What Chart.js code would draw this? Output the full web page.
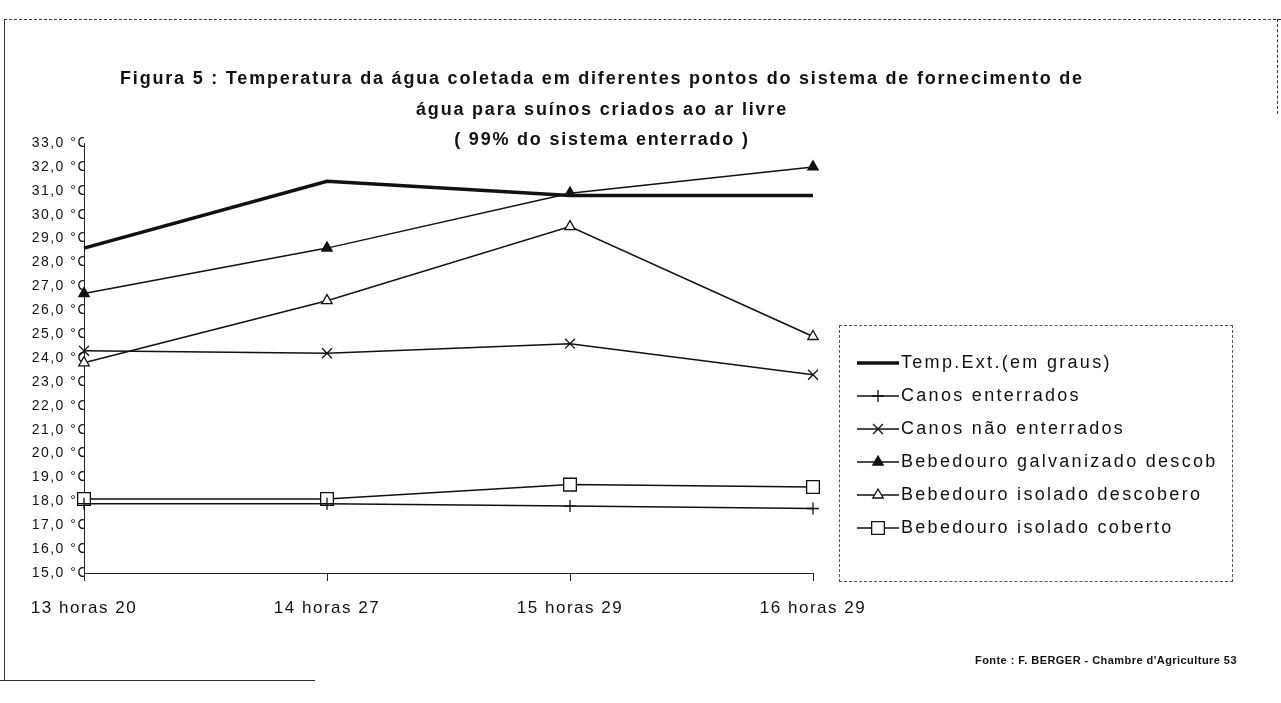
<!DOCTYPE html>
<html lang="pt">
<head>
<meta charset="utf-8">
<title>Figura 5</title>
<script src="https://cdn.jsdelivr.net/npm/chart.js@4/dist/chart.umd.min.js"></script>
<style>
  body { margin: 0; background: #fff; font-family: "Liberation Sans", Arial, sans-serif; color: #111; }
  #page { position: relative; width: 1281px; height: 703px; overflow: hidden; }
  #chart { position: absolute; left: 0; top: 0; }
  #title { position: absolute; left: 0; width: 1204px; top: 63px; text-align: center; font-weight: bold; font-size: 18px; letter-spacing: 1.8px; line-height: 30.5px; }
  #legend { position: absolute; left: 839px; top: 325px; width: 394px; height: 257px; border: 1px dashed #555; box-sizing: border-box; padding-top: 20px; }
  .row { height: 33px; display: flex; align-items: center; }
  .row canvas { margin-left: 17px; margin-right: 2px; }
  .row span { font-size: 18px; letter-spacing: 2.3px; }
  #source { position: absolute; left: 975px; top: 654px; font-size: 11px; font-weight: bold; letter-spacing: 0.45px; }
  .frame { position: absolute; background: #333; }
</style>
</head>
<body>
<div id="page">
  <canvas id="chart" width="1281" height="703"></canvas>
  <div id="title">Figura 5 : Temperatura da água coletada em diferentes pontos do sistema de fornecimento de<br>água para suínos criados ao ar livre<br>( 99% do sistema enterrado )</div>
  <div id="legend"></div>
  <div id="source">Fonte : F. BERGER - Chambre d'Agriculture 53</div>
  <div class="frame" style="left:4px; top:19px; width:1px; height:662px;"></div>
  <div class="frame" style="left:4px; top:19px; width:1277px; height:0; background:none; border-top:1px dashed #333;"></div>
  <div class="frame" style="left:0; top:680px; width:315px; height:1px;"></div>
  <div class="frame" style="left:1277px; top:19px; width:0; height:95px; background:none; border-left:1px dashed #333;"></div>
</div>
<script>
// Dados
const timeLabels = ['13 horas 20', '14 horas 27', '15 horas 29', '16 horas 29'];
const tempExt = [28.6, 31.4, 30.8, 30.8];
const canosEnterrados = [17.9, 17.9, 17.8, 17.7];
const canosNaoEnterrados = [24.3, 24.2, 24.6, 23.3];
const bebGalvanizado = [26.7, 28.6, 30.9, 32.0];
const bebIsoladoDescoberto = [23.8, 26.4, 29.5, 24.9];
const bebIsoladoCoberto = [18.1, 18.1, 18.7, 18.6];
const seriesNames = [
  'Temp.Ext.(em graus)',
  'Canos enterrados',
  'Canos não enterrados',
  'Bebedouro galvanizado descob',
  'Bebedouro isolado descobero',
  'Bebedouro isolado coberto'
];
const yTickLabels = [
  '15,0 °C', '16,0 °C', '17,0 °C', '18,0 °C', '19,0 °C', '20,0 °C', '21,0 °C',
  '22,0 °C', '23,0 °C', '24,0 °C', '25,0 °C', '26,0 °C', '27,0 °C', '28,0 °C',
  '29,0 °C', '30,0 °C', '31,0 °C', '32,0 °C', '33,0 °C'
];

const FONT = '"Liberation Sans", Arial, sans-serif';
const INK = '#111';

function makeDataset(label, data, style) {
  return Object.assign({
    label: label,
    data: data,
    borderColor: INK,
    pointBorderColor: INK,
    borderWidth: 1.5,
    pointBorderWidth: 1.3,
    tension: 0,
    clip: false
  }, style);
}

const datasets = [
  makeDataset(seriesNames[0], tempExt, { borderWidth: 3.5, pointRadius: 0 }),
  makeDataset(seriesNames[1], canosEnterrados, { pointStyle: 'cross', pointRadius: 6 }),
  makeDataset(seriesNames[2], canosNaoEnterrados, { pointStyle: 'crossRot', pointRadius: 7 }),
  makeDataset(seriesNames[3], bebGalvanizado, { pointStyle: 'triangle', pointRadius: 6, pointBackgroundColor: INK }),
  makeDataset(seriesNames[4], bebIsoladoDescoberto, { pointStyle: 'triangle', pointRadius: 6, pointBackgroundColor: '#fff' }),
  makeDataset(seriesNames[5], bebIsoladoCoberto, { pointStyle: 'rect', pointRadius: 9, pointBackgroundColor: '#fff' })
];

// espaçamento entre letras dos rótulos dos eixos (texto "máquina de escrever")
const tickSpacing = {
  id: 'tickSpacing',
  beforeDraw(chart) { chart.ctx.letterSpacing = '1.5px'; }
};

const chart = new Chart(document.getElementById('chart'), {
  type: 'line',
  data: { labels: timeLabels, datasets: datasets },
  plugins: [tickSpacing],
  options: {
    responsive: false,
    animation: false,
    layout: { padding: { left: 0, right: 468, top: 143, bottom: 80 } },
    plugins: {
      legend: { display: false },
      tooltip: { enabled: false },
      title: { display: false }
    },
    scales: {
      x: {
        offset: false,
        grid: { drawOnChartArea: false, drawTicks: true, tickLength: 8, color: '#222' },
        border: { color: '#222', width: 1, dash: [28, 5, 2, 5] },
        ticks: { padding: 17, color: INK, font: { size: 17, family: FONT }, maxRotation: 0, autoSkip: false },
        afterFit: scale => { scale.height = 50; }
      },
      y: {
        min: 15,
        max: 33,
        grid: { display: false, drawTicks: false },
        border: { color: '#222', width: 1 },
        ticks: {
          stepSize: 1,
          padding: -5,
          color: INK,
          font: { size: 14, family: FONT },
          callback: (value, index) => yTickLabels[index]
        },
        afterFit: scale => { scale.width = 84; }
      }
    }
  }
});

// Legenda desenhada à parte, na caixa à direita
const legendBox = document.getElementById('legend');
datasets.forEach(ds => {
  const row = document.createElement('div');
  row.className = 'row';
  const sample = document.createElement('canvas');
  sample.width = 42;
  sample.height = 22;
  const ctx = sample.getContext('2d');
  ctx.strokeStyle = INK;
  ctx.lineWidth = ds.borderWidth;
  ctx.beginPath();
  ctx.moveTo(0, 11);
  ctx.lineTo(42, 11);
  ctx.stroke();
  if (ds.pointRadius > 0 && Chart.helpers && Chart.helpers.drawPoint) {
    ctx.fillStyle = ds.pointBackgroundColor || '#fff';
    ctx.lineWidth = ds.pointBorderWidth;
    Chart.helpers.drawPoint(ctx, {
      pointStyle: ds.pointStyle,
      radius: ds.pointRadius,
      borderWidth: ds.pointBorderWidth,
      rotation: 0
    }, 21, 11);
  }
  const text = document.createElement('span');
  text.textContent = ds.label;
  row.appendChild(sample);
  row.appendChild(text);
  legendBox.appendChild(row);
});
</script>
</body>
</html>
